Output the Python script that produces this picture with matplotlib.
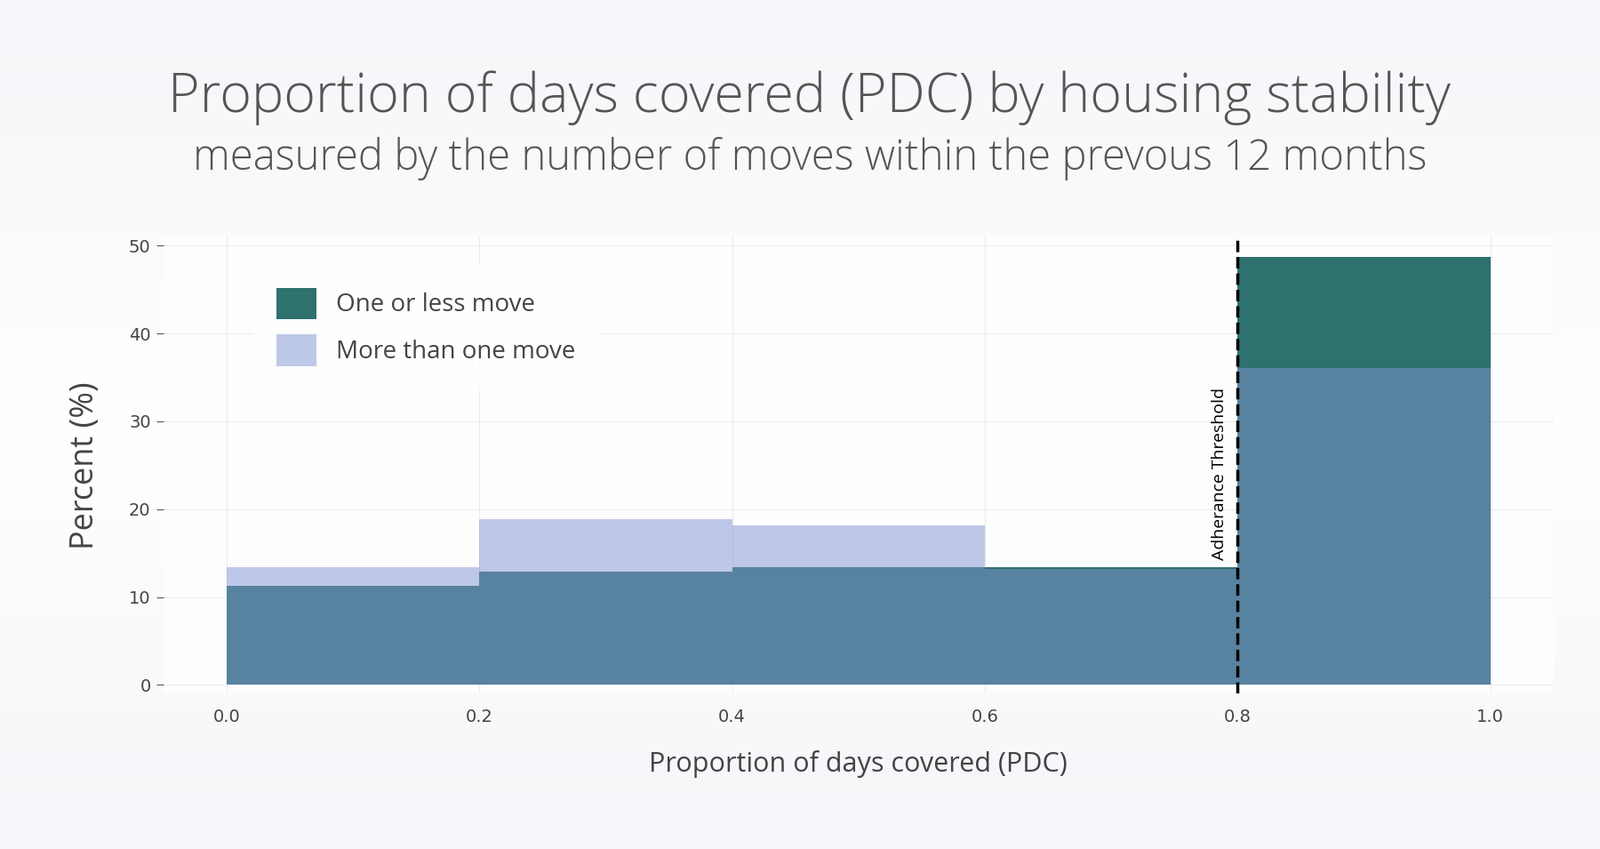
import matplotlib
matplotlib.use("Agg")
import matplotlib.pyplot as plt
import numpy as np

bin_edges = [0.0, 0.2, 0.4, 0.6, 0.8, 1.0]
one_or_less = [11.3, 12.9, 13.4, 13.4, 48.7]
more_than_one = [13.4, 18.9, 18.2, 13.2, 36.1]
x_ticks = [0.0, 0.2, 0.4, 0.6, 0.8, 1.0]
y_ticks = [0, 10, 20, 30, 40, 50]

fig = plt.figure(figsize=(18, 9.55), dpi=100)
bg = fig.add_axes([0, 0, 1, 1], zorder=-10)
grad = np.linspace(0, 1, 256).reshape(-1, 1)
bg.imshow(grad, aspect="auto", cmap=matplotlib.colors.LinearSegmentedColormap.from_list("g", ["#f4f6f9", "#ffffff", "#f4f6f9"]), extent=[0, 1, 0, 1])
bg.axis("off")

ax = fig.add_axes([0.102, 0.183, 0.869, 0.538])
ax.set_facecolor("#fdfdfe")
lefts = bin_edges[:-1]
w = [bin_edges[i+1] - bin_edges[i] for i in range(len(lefts))]
ax.bar(lefts, one_or_less, width=w, align="edge", color="#2e716e", label="One or less move", zorder=2)
ax.bar(lefts, more_than_one, width=w, align="edge", color="#8093d2", alpha=0.5, label="More than one move", zorder=3)
ax.axvline(0.8, color="black", ls="--", lw=2.5, zorder=4)
ax.text(0.792, 24, "Adherance Threshold", rotation=90, ha="right", va="center", fontsize=14, family="Open Sans", zorder=5)

ax.set_xlim(-0.05, 1.05)
ax.set_ylim(-1, 51)
ax.set_xticks(x_ticks)
ax.set_xticklabels([f"{v:.1f}" for v in x_ticks])
ax.set_yticks(y_ticks)
ax.grid(True, color="#ebebeb", lw=0.8, zorder=0)
for s in ax.spines.values():
    s.set_visible(False)
ax.tick_params(axis="y", length=6, color="#555", labelsize=14, labelcolor="#444", pad=4)
ax.tick_params(axis="x", length=0, labelsize=14, labelcolor="#444", pad=12)
ax.set_xlabel("Proportion of days covered (PDC)", fontsize=22, color="#444", family="Open Sans", labelpad=20)
ax.set_ylabel("Percent (%)", fontsize=26, color="#444", family="Open Sans", labelpad=22)
leg = ax.legend(loc="upper left", bbox_to_anchor=(0.055, 0.97), fontsize=20, frameon=True,
                handlelength=1.6, handleheight=1.6, labelspacing=0.6, borderpad=1.0,
                facecolor="white", edgecolor="none", prop={"family": "Open Sans", "size": 20})
for t in leg.get_texts():
    t.set_color("#444")

fig.text(0.506, 0.885, "Proportion of days covered (PDC) by housing stability", ha="center", va="center",
         fontsize=44, color="#555", family="Open Sans", fontweight="light")
fig.text(0.506, 0.813, "measured by the number of moves within the prevous 12 months", ha="center", va="center",
         fontsize=34, color="#555", family="Open Sans", fontweight="light")
fig.savefig("out.png", dpi=100)
